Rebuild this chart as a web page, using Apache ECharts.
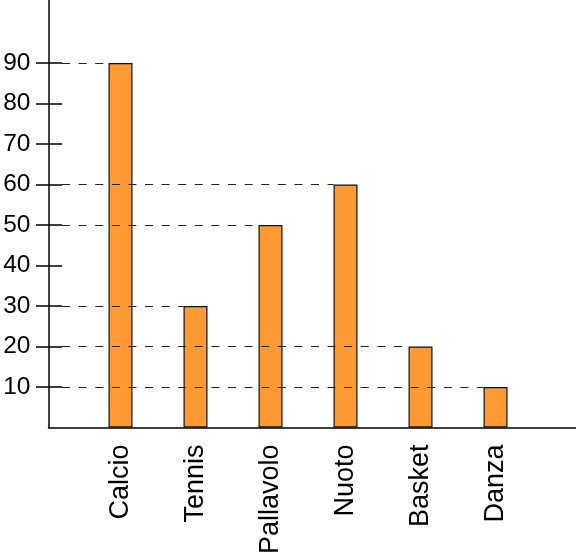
<!DOCTYPE html>
<html><head><meta charset="utf-8">
<script src="https://cdn.jsdelivr.net/npm/echarts@6/dist/echarts.min.js"></script>
<style>html,body{margin:0;padding:0;background:#fff}#c{width:576px;height:557px}</style>
</head><body><div id="c"></div>
<script>
const categories = ['Calcio', 'Tennis', 'Pallavolo', 'Nuoto', 'Basket', 'Danza'];
const values = [90, 30, 50, 60, 20, 10];
const yTicks = [10, 20, 30, 40, 50, 60, 70, 80, 90];

const positions = categories.map((c, i) => i + 1);
const barData = positions.map((p, i) => [p, values[i]]);
const BAR_W = 24;
const X_MIN = 0.04, X_MAX = 7.073;
const Y_MAX = 105.56;
const font = '"Liberation Sans", Arial, sans-serif';

const chart = echarts.init(document.getElementById('c'), null, {renderer: 'canvas'});
chart.setOption({
  animation: false,
  backgroundColor: '#fff',
  grid: {left: 48.5, right: 0, top: 0, bottom: 129.5, containLabel: false},
  xAxis: {
    type: 'value', min: X_MIN, max: X_MAX,
    splitLine: {show: false},
    axisTick: {show: false},
    axisLine: {show: true, lineStyle: {color: '#000', width: 1.5}},
    axisLabel: {
      customValues: positions,
      formatter: v => categories[Math.round(v) - 1] || '',
      rotate: 90, fontSize: 27, color: '#000', fontFamily: font, margin: 17
    }
  },
  yAxis: [{
    type: 'value', min: 0, max: Y_MAX, position: 'left',
    splitLine: {show: false},
    axisLine: {show: true, lineStyle: {color: '#000', width: 1.5}},
    axisTick: {show: true, customValues: yTicks, length: 12.5, lineStyle: {color: '#000', width: 1.5}},
    axisLabel: {customValues: yTicks, fontSize: 24.5, color: '#000', fontFamily: font, margin: 18}
  }, {
    type: 'value', min: 0, max: Y_MAX, position: 'left',
    splitLine: {show: false},
    axisLine: {show: false},
    axisTick: {show: true, inside: true, customValues: yTicks, length: 13.5, lineStyle: {color: '#000', width: 1.5}},
    axisLabel: {show: false}
  }],
  series: [{
    type: 'bar', data: barData, barWidth: BAR_W,
    itemStyle: {color: '#FF9933', borderColor: '#111', borderWidth: 1.2}
  }, {
    type: 'custom', data: barData, z: 5,
    renderItem: (params, api) => {
      const x = api.value(0), v = api.value(1);
      const end = api.coord([x, v]);
      const start = api.coord([X_MIN, v]);
      const y = Math.round(end[1]) + 0.5;
      return {
        type: 'line',
        shape: {x1: start[0] + 13.5, y1: y, x2: end[0] - BAR_W / 2, y2: y},
        style: {stroke: '#222', lineWidth: 1.2, lineDash: [8, 8.6]}
      };
    }
  }]
});
</script>
</body></html>
